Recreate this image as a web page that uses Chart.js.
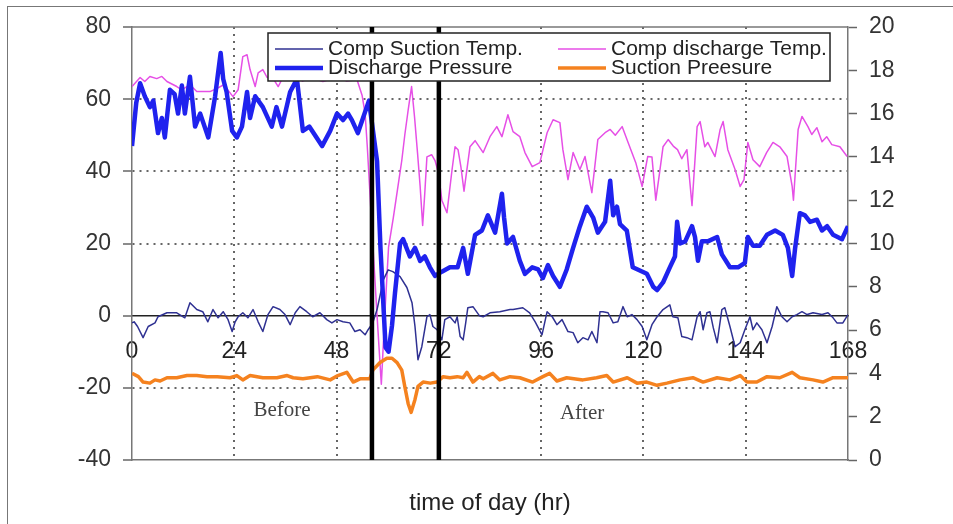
<!DOCTYPE html>
<html>
<head>
<meta charset="utf-8">
<script src="https://cdn.jsdelivr.net/npm/chart.js@4.4.1/dist/chart.umd.min.js"></script>
<style>
  html, body { margin: 0; padding: 0; background: #fff; overflow: hidden; }
  #wrap { position: relative; width: 953px; height: 524px; }
  #frame { position: absolute; left: 7px; top: 6px; width: 1000px; height: 600px; border: 1.5px solid #777; }
  #chart { position: absolute; left: 0; top: 0; }
</style>
</head>
<body>
<div id="wrap">
  <div id="frame"></div>
  <canvas id="chart" width="953" height="524"></canvas>
</div>
<script>
const $ = id => document.getElementById(id);

// Axis ticks
const hourTicks = [0, 24, 48, 72, 96, 120, 144, 168];
const tempTicks = [-40, -20, 0, 20, 40, 60, 80];
const pressTicks = [0, 2, 4, 6, 8, 10, 12, 14, 16, 18, 20];

// Comp suction temp (left axis)
const suctionTempHours = [0,0.5,1.3,2.6,3.8,5.4,6.1,8.2,10.5,12.4,13.6,15.2,16.6,17.8,19,20.2,21.4,22.5,23.5,24.2,24.9,26,27.2,28.4,29.6,30.7,31.9,33.1,34.7,35.9,37.1,38.3,39.4,41,42.4,44.1,45.7,46.9,48.1,49.5,51.1,52.3,53.5,54.7,55.4,56.5,57.5,59,60.1,61.2,62.9,64.5,65.7,66.4,67.1,68,69.2,69.9,70.6,71.6,72.7,73.4,74.6,75.8,76.3,77,77.7,78.3,78.8,80,81.5,82.4,84,86.3,88.7,89.4,91.7,93.3,94.6,96.2,97.4,98.6,99.7,100.9,102.3,103.5,104.6,105.8,107,107.9,109.1,109.8,110.5,111.7,112.9,114,115.2,116.2,117.3,118.5,119.7,120.8,122,123.2,124.6,126.2,126.9,128.1,129,130.2,131.4,132.6,133.3,134,134.9,135.6,136.4,137.3,138.4,139.1,140.3,141.5,142.7,143.8,145,145.7,146.6,147.8,149,150.2,151.3,152.5,153.7,154.9,156,157.2,158.4,159.8,161.9,163.3,164.5,165.4,166.8,168];
const suctionTempValues = [-2,-1.7,-3,-6.1,-3,-2,-0.3,0.8,0.8,-0.6,3.6,1.7,1.1,-1.7,1.7,-0.6,1.1,-1,-4.4,-1.7,-0.3,0.8,-0.6,1.7,-1.7,-4.4,0.3,2.5,1.7,0.3,-2.5,0.8,2.5,1.1,-0.3,0.8,-1.1,-2,-1.1,-1.7,-2,-4.4,-3.9,-5.3,-3.9,-2,1.7,10,12.7,12.2,10.8,7.8,3.6,-3,-12.2,-8.6,-0.3,0.3,-3,-3.9,-6.7,-1.1,-0.3,-2,-0.3,-5.8,-6.7,-2,2.2,2.5,0,-0.3,0.8,1.1,1.7,1.7,2.2,0.8,-1.7,-5.3,1.1,-0.3,-2.5,-1.1,-4.4,-4.7,-7.5,-6.1,-6.7,-4.4,-7.5,1.1,1.1,0.8,-2,-1.7,2.5,-0.3,0.3,-1.1,-3,-6.7,-2.5,-0.3,1.7,3,-0.3,-0.6,-5.8,-6.1,-6.7,-0.3,1.1,-3.9,0.8,1.1,-3.4,-7.5,1.7,2.2,-3,-8.6,-7.5,-3.9,-0.3,-3.9,-2,-3.9,-7.5,-3,2.5,-0.3,-1.7,-0.3,0.3,1.1,0.3,0.8,0.3,0.8,-0.6,-2,-2,0.3];

// Comp discharge temp (left axis)
const dischargeTempHours = [0,1.9,3,4.2,5.8,7,8.2,10.5,11.7,13.6,15.2,18.3,20,21.5,23.7,24.9,26,27,27.7,28.9,29.6,30.7,31.7,32.8,34.3,35.4,37.1,38.5,40,42,44.8,46.5,48,50.4,52.8,54,54.7,55.2,56.5,57.5,58.5,59.3,60.2,61.3,62.3,63.3,64,64.8,65.6,66.3,67,67.6,68.2,68.7,69.2,70.3,71.1,71.9,72.7,73.9,75.1,75.8,76.5,77.2,77.9,79.3,80.5,82.4,84,85.6,86.8,88.2,89.4,91,92.2,93.9,95.7,97.4,98.8,100.4,101.1,102.3,103.5,105.1,106.3,107.9,109.3,111,112.2,113.4,115,116.4,118.2,119.7,121,122,122.9,123.6,124.6,125.8,127,128,129,130.2,131.4,132.6,133.3,134.4,135.1,136.8,138,138.7,139.8,141.5,142.7,143.6,144.5,145.7,147.3,148.9,150.4,152,153.7,154.9,155.2,156.3,157.2,158.6,159.5,160.7,161.9,163,164.2,166.1,167.8];
const dischargeTempValues = [63.5,66,64.9,66.3,65.7,66.3,64.9,63.5,62.6,64,62.1,62.1,63,64,60.7,62.6,71.8,72.3,68.2,63.5,67.3,68.2,66,66.3,63.5,66,66,66.5,65,66,64.9,65.5,66.3,65,65.4,61,56,47,20,0,-19,0,19,27,35,43,50,57,63.5,55,45,36,25,34,44,44.6,43,39.6,32,28.5,40.5,46.8,46,41,34.5,46.8,48.5,45.2,49.6,52.4,49.6,55.7,51,49.6,45.2,41.3,42.4,50.7,54.3,53.5,46,37.7,45.2,40.5,44.1,34.1,48.8,50.7,51.6,50,52.4,48,42.4,35.8,44.1,44,32,38,46.8,48.8,47,46,43.5,46,30.5,52.4,53.8,46.8,48,44.1,51.6,53.8,46,40.5,35.8,37.7,48,43.2,41.3,45.2,48,46.8,44.1,35.8,32,51.6,55.2,52.4,50.2,52.1,48.2,49.6,47.4,46.8,44.1];

// Discharge pressure (right axis)
const dischargePressHours = [0,1,1.9,3,4.2,5,6.1,7,7.7,8.9,10,10.8,11.7,12.4,13.6,14.8,16,17.9,19.5,20.8,21.4,22.2,23.5,24.6,25.8,27,27.7,28.9,30.7,32.8,33.9,35.2,37.1,38.7,40.1,41.6,44.6,46.5,48.1,49.5,50.7,51.6,53,55.6,57.5,58.3,59.5,60.2,61,61.7,62.9,63.6,65.2,66.4,67.6,68.7,69.9,71.1,72.7,74.6,76.4,77.7,78.8,80.5,82.1,83.5,85.2,86.8,87.3,88,89.4,91,92.2,93.9,95.3,96.4,97.6,98.8,100.4,102,103.5,105.1,106.7,108.2,109.3,111,112.2,112.9,113.8,114.5,116.1,117.5,120.8,122.3,123.2,124.6,126.2,127.4,127.9,128.6,129.8,131.4,132.1,132.8,133.7,135.1,137.3,138.4,140.3,142.2,143.8,144.5,145.7,147.3,149,150.9,152.7,153.9,154.9,155.6,156.7,157.9,159.1,160.7,161.9,163.1,164.5,166.6,168];
const dischargePressValues = [14.5,16.5,17.4,16.8,16.3,16.6,15.1,15.8,14.9,17.1,16.9,16,17.3,16,17.7,15.4,16,14.9,16.8,18.8,17.6,17,15.2,14.9,15.4,17,15.8,16.8,16.3,15.4,16.3,15.4,17,17.6,15.2,15.4,14.5,15.2,16,15.7,16,15.7,15.1,16.6,13.8,9.8,5.2,5,6.2,7.7,10,10.2,9.4,9.8,9.2,9.4,8.9,8.5,8.7,8.9,8.9,9.8,8.6,10.4,10.6,11.3,10.5,12.3,11.2,10,10.3,9.2,8.6,8.9,8.8,8.4,9,8.5,8,8.8,9.8,10.8,11.7,11.2,10.5,11,12.9,11.3,11.7,10.9,10.6,8.9,8.6,8,7.85,8.2,8.9,9.4,11,10,10.1,10.8,10.3,9.2,10.1,10.1,10.3,9.5,8.9,8.9,9.1,10.3,9.9,9.9,10.4,10.6,10.4,9.8,8.5,9.8,11.4,11.3,11,11.1,10.6,10.8,10.4,10.2,10.8];

// Suction pressure (right axis)
const suctionPressHours = [0,1.5,2.6,4.2,5.4,6.6,8.2,10.5,12.9,15.2,17.6,20,23,24.6,26,27.7,30.7,34,36.4,37.8,40.1,43.5,46.5,48.3,50.4,51.9,53.5,55.8,56.5,58.2,59.8,61,62.2,63.3,64,64.8,65.5,66.4,67.1,68.3,70,71.6,73,74.6,76.3,77.7,78.6,80,81.5,82.4,84.7,86.3,88.7,91,94,96.4,98,99.7,102,105.8,109,111.4,112.9,116.2,118.5,120.8,123.2,125.5,128.6,131.6,134,137.3,140.3,142.7,144.3,146.6,149,152,154.9,156.7,159.8,162.1,164.5,168];
const suctionPressValues = [4,3.85,3.6,3.55,3.7,3.65,3.8,3.8,3.9,3.9,3.85,3.85,3.8,3.9,3.7,3.9,3.8,3.8,3.9,3.8,3.75,3.85,3.7,3.9,4.05,3.6,3.75,3.75,4.15,4.5,4.7,4.7,4.5,4.15,3.4,2.6,2.2,2.8,3.4,3.6,3.55,3.6,3.85,3.8,3.85,3.8,4.05,3.6,3.85,3.75,4,3.7,3.85,3.8,3.6,3.85,4,3.65,3.8,3.7,3.8,3.9,3.6,3.8,3.55,3.6,3.45,3.55,3.7,3.8,3.6,3.8,3.7,3.9,3.6,3.6,3.85,3.8,4.05,3.8,3.7,3.6,3.8,3.8];

// Before / after markers
const eventHours = [56.3, 72];
const periodLabels = ["Before", "After"];
const periodHours = [35.2, 105.6];
const periodLevels = [-26.3, -27];

const sansFont = '"Liberation Sans", Arial, sans-serif';
Chart.defaults.font.family = sansFont;
Chart.defaults.color = "#333";

const toPoints = (hours, vals) => hours.map((h, i) => ({ x: h, y: vals[i] }));
const hidden = "rgba(0,0,0,0)";

// top edge of the plot box
const frameTop = {
  id: "frameTop",
  beforeDatasetsDraw(chart) {
    const { ctx, chartArea: a } = chart;
    ctx.save();
    ctx.strokeStyle = "#777";
    ctx.lineWidth = 1.5;
    ctx.beginPath();
    ctx.moveTo(a.left, a.top);
    ctx.lineTo(a.right, a.top);
    ctx.stroke();
    ctx.restore();
  }
};

// "Before" / "After" captions
const periodText = {
  id: "periodText",
  afterDatasetsDraw(chart) {
    const { ctx, scales: { x, y } } = chart;
    ctx.save();
    ctx.font = '21px "Liberation Serif", "Times New Roman", serif';
    ctx.fillStyle = "#444";
    ctx.textAlign = "center";
    ctx.textBaseline = "middle";
    periodLabels.forEach((t, i) => {
      ctx.fillText(t, x.getPixelForValue(periodHours[i]), y.getPixelForValue(periodLevels[i]));
    });
    ctx.restore();
  }
};

// boxed 2x2 legend drawn over the plot
const boxLegend = {
  id: "boxLegend",
  afterDraw(chart) {
    const ctx = chart.ctx;
    ctx.save();
    ctx.fillStyle = "#fff";
    ctx.fillRect(268, 33, 562, 48);
    ctx.strokeStyle = "#222";
    ctx.lineWidth = 1.5;
    ctx.strokeRect(268, 33, 562, 48);
    ctx.font = "21px " + sansFont;
    ctx.textBaseline = "alphabetic";
    const colX = [275, 558];
    const rowY = [49, 68];
    chart.data.datasets.filter(d => d.label).forEach((ds, i) => {
      const lx = colX[i % 2];
      const ly = rowY[Math.floor(i / 2)];
      ctx.strokeStyle = ds.borderColor;
      ctx.lineWidth = ds.borderWidth;
      ctx.beginPath();
      ctx.moveTo(lx, ly);
      ctx.lineTo(lx + 48, ly);
      ctx.stroke();
      ctx.fillStyle = "#222";
      ctx.fillText(ds.label, lx + 53, ly + 6);
    });
    ctx.restore();
  }
};

const datasets = [
  { label: "Comp Suction Temp.", data: toPoints(suctionTempHours, suctionTempValues),
    yAxisID: "y", borderColor: "#2f3192", borderWidth: 1.5, order: 3 },
  { label: "Comp discharge Temp.", data: toPoints(dischargeTempHours, dischargeTempValues),
    yAxisID: "y", borderColor: "#e64fe6", borderWidth: 1.5, order: 4 },
  { label: "Discharge Pressure", data: toPoints(dischargePressHours, dischargePressValues),
    yAxisID: "y2", borderColor: "#1f22ee", borderWidth: 4.5, order: 1 },
  { label: "Suction Preesure", data: toPoints(suctionPressHours, suctionPressValues),
    yAxisID: "y2", borderColor: "#f5821f", borderWidth: 3.5, order: 2 }
];

// thick black separators between the periods
eventHours.forEach(h => {
  datasets.push({
    data: [{ x: h, y: tempTicks[0] }, { x: h, y: tempTicks[tempTicks.length - 1] }],
    yAxisID: "y", borderColor: "#000", borderWidth: 4.5, order: 0
  });
});

new Chart($("chart"), {
  type: "line",
  data: { datasets },
  options: {
    responsive: false,
    animation: false,
    devicePixelRatio: 1,
    elements: {
      point: { radius: 0 },
      line: { tension: 0, borderJoinStyle: "round", borderCapStyle: "butt" }
    },
    layout: { padding: { top: 27, left: 0, right: 0, bottom: 0 } },
    plugins: { legend: { display: false }, tooltip: { enabled: false } },
    scales: {
      x: {
        type: "linear", position: "bottom", min: 0, max: 168,
        afterBuildTicks: s => { s.ticks = hourTicks.map(v => ({ value: v })); },
        afterFit: s => { s.height = 64; },
        ticks: { display: false },
        grid: {
          drawTicks: false, lineWidth: 2,
          color: c => (c.tick && (c.tick.value === 0 || c.tick.value === 168)) ? hidden : "#666"
        },
        border: { color: "#777", width: 1.5, dash: [2, 5] },
        title: { display: true, text: "time of day (hr)", color: "#222",
          font: { size: 24 }, padding: { top: 0, bottom: 6 } }
      },
      x2: {
        type: "linear", axis: "x", position: { y: 0 }, min: 0, max: 168,
        afterBuildTicks: s => { s.ticks = hourTicks.map(v => ({ value: v })); },
        ticks: { font: { size: 23 }, color: "#222", padding: 22, maxRotation: 0, autoSkip: false },
        grid: { display: false, drawTicks: false },
        border: { color: "#222", width: 1.5 }
      },
      y: {
        type: "linear", position: "left", min: -40, max: 80,
        afterBuildTicks: s => { s.ticks = tempTicks.map(v => ({ value: v })); },
        afterFit: s => { s.width = 132; },
        ticks: { font: { size: 23 }, color: "#333", padding: 12 },
        grid: {
          lineWidth: 2, tickLength: 9, tickWidth: 1.5, tickColor: "#666",
          color: c => (c.tick && [80, 0, -40].includes(c.tick.value)) ? hidden : "#666"
        },
        border: { color: "#777", width: 1.5, dash: [2, 5] }
      },
      y2: {
        type: "linear", position: "right", min: 0, max: 20,
        afterBuildTicks: s => { s.ticks = pressTicks.map(v => ({ value: v })); },
        afterFit: s => { s.width = 105; },
        ticks: { font: { size: 23 }, color: "#333", padding: 12 },
        grid: { drawOnChartArea: false, tickLength: 9, tickWidth: 1.5, tickColor: "#666" },
        border: { color: "#777", width: 1.5 }
      }
    }
  },
  plugins: [frameTop, periodText, boxLegend]
});
</script>
</body>
</html>
